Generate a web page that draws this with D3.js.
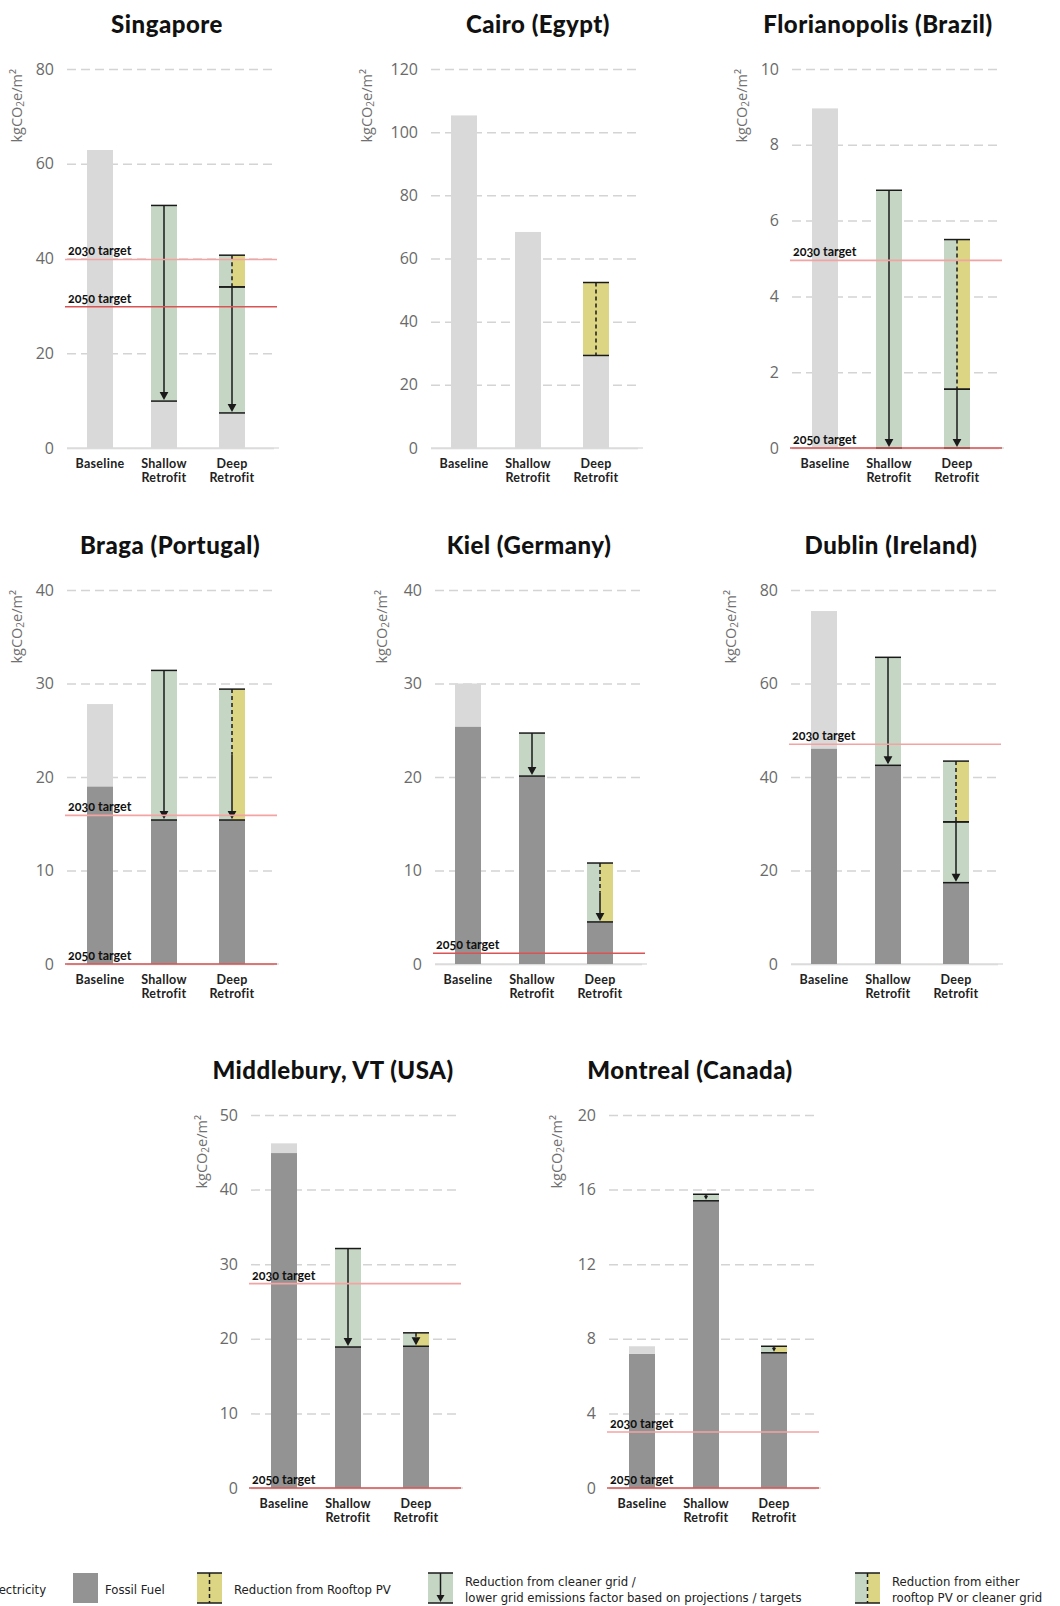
<!DOCTYPE html>
<html>
<head>
<meta charset="utf-8">
<script src="https://cdn.jsdelivr.net/npm/d3@7"></script>
<style>
  body { margin: 0; background: #fff; }
  svg { display: block; }
</style>
</head>
<body>
<svg id="chart" width="1060" height="1606"></svg>
<script>
// ---- data ----
const categories = ['Baseline', 'Shallow Retrofit', 'Deep Retrofit'];
const cities = ['Singapore', 'Cairo (Egypt)', 'Florianopolis (Brazil)',
  'Braga (Portugal)', 'Kiel (Germany)', 'Dublin (Ireland)',
  'Middlebury, VT (USA)', 'Montreal (Canada)'];
const yMax  = [80, 120, 10, 40, 40, 80, 50, 20];
const yStep = [20, 20, 2, 10, 10, 20, 10, 4];

// stacked from the bottom: fossil, electricity, grid cut, either cut, pv cut
const fossil      = [[0, 0, 0], [0, 0, 0], [0, 0, 0], [19.0, 15.4, 15.4], [25.4, 20.1, 4.5], [46.1, 42.5, 17.4], [44.9, 18.9, 19.0], [7.2, 15.4, 7.25]];
const electricity = [[62.9, 9.9, 7.4], [105.3, 68.4, 29.3], [8.96, 0, 0], [8.8, 0, 0], [4.6, 0, 0], [29.4, 0, 0], [1.3, 0, 0], [0.4, 0, 0]];
const gridCut     = [[0, 41.3, 26.6], [0, 0, 0], [0, 6.8, 1.55], [0, 16.0, 0], [0, 4.6, 0], [0, 23.1, 13.0], [0, 13.2, 0], [0, 0.35, 0]];
const eitherCut   = [[0, 0, 6.7], [0, 0, 0], [0, 0, 3.95], [0, 0, 14.0], [0, 0, 6.3], [0, 0, 13.0], [0, 0, 1.8], [0, 0, 0.35]];
const pvCut       = [[0, 0, 0], [0, 0, 23.1], [0, 0, 0], [0, 0, 0], [0, 0, 0], [0, 0, 0], [0, 0, 0], [0, 0, 0]];
const target2030  = [39.8, null, 4.95, 15.9, null, 47.0, 27.4, 3.0];
const target2050  = [29.8, null, 0, 0, 1.15, null, 0, 0];

const legendLabels = [['Electricity'], ['Fossil Fuel'], ['Reduction from Rooftop PV'],
  ['Reduction from cleaner grid /', 'lower grid emissions factor based on projections / targets'],
  ['Reduction from either', 'rooftop PV or cleaner grid']];

// ---- layout ----
const panelX   = [67, 431, 792, 67, 435, 791, 251, 609];
const panelTop = [69, 69, 69, 590, 590, 590, 1115, 1115];
const panelBot = [448, 448, 448, 964, 964, 964, 1488, 1488];
const titleX   = [167, 538, 878, 170, 529, 891, 333, 690];
const yLabelX  = [18, 368, 743, 18, 383, 732, 203, 558];
const W = 207;
const barW = 26;

const colors = {
  electricity: '#d9d9d9',
  fossil: '#939393',
  grid: '#c5d6c5',
  pv: '#dcd583',
  ink: '#1a1a1a',
  t2030: '#f4a3a3',
  t2050: '#db5454'
};

const svg = d3.select('#chart');

const drawPanel = (i) => {
  const x0 = panelX[i];
  const g = svg.append('g').attr('transform', `translate(${x0},0)`);

  const y = d3.scaleLinear().domain([0, yMax[i]]).range([panelBot[i], panelTop[i]]);
  const x = d3.scaleOrdinal().domain(categories).range([33, 97, 165]);

  // title
  svg.append('text')
    .attr('x', titleX[i]).attr('y', panelTop[i] - 36)
    .attr('text-anchor', 'middle')
    .attr('font-family', 'Lato, sans-serif')
    .attr('font-weight', 900)
    .attr('font-size', 24)
    .attr('letter-spacing', 0.5)
    .attr('fill', '#111')
    .text(cities[i]);

  // axis + dashed grid
  const ticks = d3.range(0, yMax[i] + 1e-9, yStep[i]);
  g.append('g')
    .call(d3.axisLeft(y).tickValues(ticks).tickSize(-W).tickPadding(13))
    .call(a => {
      a.select('.domain').remove();
      a.selectAll('line')
        .attr('stroke', '#d4d4d4')
        .attr('stroke-width', 1.5)
        .attr('stroke-dasharray', d => d === 0 ? null : '9,5');
      a.selectAll('text')
        .attr('font-family', '"Open Sans", sans-serif')
        .attr('font-size', 16)
        .attr('fill', '#6a6a6a');
    });
  g.append('line')
    .attr('x1', 0).attr('x2', W + 5)
    .attr('y1', y(0)).attr('y2', y(0))
    .attr('stroke', '#dedede').attr('stroke-width', 1.5);

  // y label
  const yl = svg.append('text')
    .attr('transform', `translate(${yLabelX[i]},${panelTop[i]}) rotate(-90)`)
    .attr('text-anchor', 'end')
    .attr('dominant-baseline', 'middle')
    .attr('font-family', '"Open Sans", sans-serif')
    .attr('font-size', 14.5)
    .attr('fill', '#707070');
  yl.append('tspan').text('kgCO');
  yl.append('tspan').attr('font-size', 10).attr('dy', 3).text('2');
  yl.append('tspan').attr('dy', -3).text('e/m²');

  // bars
  categories.forEach((c, j) => {
    const cx = x(c);
    let base = 0;
    const segs = [];
    [['fossil', fossil[i][j]], ['electricity', electricity[i][j]], ['grid', gridCut[i][j]],
     ['either', eitherCut[i][j]], ['pv', pvCut[i][j]]].forEach(([k, v]) => {
      if (v > 0) { segs.push({ k, lo: base, hi: base + v }); base += v; }
    });

    const bg = g.append('g');
    segs.forEach(s => {
      if (s.k === 'either') {
        bg.append('rect').attr('x', cx - barW / 2).attr('width', barW / 2)
          .attr('y', y(s.hi)).attr('height', y(s.lo) - y(s.hi)).attr('fill', colors.grid);
        bg.append('rect').attr('x', cx).attr('width', barW / 2)
          .attr('y', y(s.hi)).attr('height', y(s.lo) - y(s.hi)).attr('fill', colors.pv);
      } else {
        bg.append('rect').attr('x', cx - barW / 2).attr('width', barW)
          .attr('y', y(s.hi)).attr('height', y(s.lo) - y(s.hi)).attr('fill', colors[s.k]);
      }
    });

    const cuts = segs.filter(s => ['grid', 'either', 'pv'].includes(s.k));
    if (!cuts.length) return;
    const lowest = cuts[0];
    cuts.forEach(s => {
      [s.lo, s.hi].forEach(v => {
        bg.append('line').attr('x1', cx - barW / 2).attr('x2', cx + barW / 2)
          .attr('y1', y(v)).attr('y2', y(v))
          .attr('stroke', colors.ink).attr('stroke-width', 1.5);
      });
      const top = y(s.hi), bot = y(s.lo);
      if (s.k === 'grid') {
        bg.append('line').attr('x1', cx).attr('x2', cx).attr('y1', top).attr('y2', bot - 3)
          .attr('stroke', colors.ink).attr('stroke-width', 1.5);
      } else if (s === lowest && s.k === 'either') {
        const mid = (top + bot) / 2;
        bg.append('line').attr('x1', cx).attr('x2', cx).attr('y1', top).attr('y2', mid)
          .attr('stroke', colors.ink).attr('stroke-width', 1.5).attr('stroke-dasharray', '4,3');
        bg.append('line').attr('x1', cx).attr('x2', cx).attr('y1', mid).attr('y2', bot - 3)
          .attr('stroke', colors.ink).attr('stroke-width', 1.5);
      } else {
        bg.append('line').attr('x1', cx).attr('x2', cx).attr('y1', top).attr('y2', bot)
          .attr('stroke', colors.ink).attr('stroke-width', 1.5).attr('stroke-dasharray', '4,3');
      }
    });
    if (lowest.k !== 'pv') {
      const tip = y(lowest.lo) - 1;
      const total = y(lowest.lo) - y(cuts[cuts.length - 1].hi);
      const h = Math.min(8, total * 0.6);
      const w = h * 1.1;
      bg.append('path')
        .attr('d', `M${cx - w / 2},${tip - h}L${cx + w / 2},${tip - h}L${cx},${tip}Z`)
        .attr('fill', colors.ink);
    }
  });

  // targets
  [[target2030[i], '2030 target', colors.t2030], [target2050[i], '2050 target', colors.t2050]]
    .forEach(([v, label, col]) => {
      if (v === null) return;
      g.append('line')
        .attr('x1', -2).attr('x2', W + 3)
        .attr('y1', y(v)).attr('y2', y(v))
        .attr('stroke', col).attr('stroke-width', 1.6);
      g.append('text')
        .attr('x', 1).attr('y', y(v) - 4)
        .attr('font-family', 'Lato, sans-serif')
        .attr('font-weight', 700)
        .attr('font-size', 12.5)
        .style('font-variant-numeric', 'oldstyle-nums')
        .attr('fill', '#111')
        .text(label);
    });

  // category labels
  categories.forEach(c => {
    const t = g.append('text')
      .attr('x', x(c)).attr('y', panelBot[i] + 20)
      .attr('text-anchor', 'middle')
      .attr('font-family', 'Lato, sans-serif')
      .attr('font-weight', 700)
      .attr('font-size', 12.5)
      .attr('letter-spacing', 0.3)
      .attr('fill', '#222');
    c.split(' ').forEach((w, k) => {
      t.append('tspan').attr('x', x(c)).attr('dy', k ? 13.5 : 0).text(w);
    });
  });
};

cities.forEach((c, i) => drawPanel(i));

// ---- legend ----
const legendX = [-44, 73, 197, 428, 855];
const lg = svg.append('g').attr('transform', 'translate(0,1573)');
const sw = 25, sh = 30;
legendLabels.forEach((lines, k) => {
  const g = lg.append('g').attr('transform', `translate(${legendX[k]},0)`);
  if (k === 0) g.append('rect').attr('width', sw).attr('height', sh).attr('fill', colors.electricity);
  if (k === 1) g.append('rect').attr('width', sw).attr('height', sh).attr('fill', colors.fossil);
  if (k === 2) g.append('rect').attr('width', sw).attr('height', sh).attr('fill', colors.pv);
  if (k === 3) g.append('rect').attr('width', sw).attr('height', sh).attr('fill', colors.grid);
  if (k === 4) {
    g.append('rect').attr('width', sw / 2).attr('height', sh).attr('fill', colors.grid);
    g.append('rect').attr('x', sw / 2).attr('width', sw / 2).attr('height', sh).attr('fill', colors.pv);
  }
  if (k >= 2) {
    [0, sh].forEach(yy => g.append('line').attr('x1', 0).attr('x2', sw).attr('y1', yy).attr('y2', yy)
      .attr('stroke', colors.ink).attr('stroke-width', 1.5));
    g.append('line').attr('x1', sw / 2).attr('x2', sw / 2).attr('y1', 0)
      .attr('y2', k === 3 ? sh - 6 : sh)
      .attr('stroke', colors.ink).attr('stroke-width', 1.5)
      .attr('stroke-dasharray', k === 3 ? null : '4,3');
    if (k === 3) g.append('path').attr('d', `M${sw / 2 - 4},${sh - 8}L${sw / 2 + 4},${sh - 8}L${sw / 2},${sh - 1}Z`).attr('fill', colors.ink);
  }
  const t = g.append('text')
    .attr('x', sw + (k >= 2 ? 12 : 7))
    .attr('y', lines.length > 1 ? 9 : 17)
    .attr('dominant-baseline', 'middle')
    .attr('font-family', '"DejaVu Sans Condensed", "DejaVu Sans", sans-serif')
    .attr('font-size', 13)
    .attr('fill', '#222');
  lines.forEach((l, n) => t.append('tspan').attr('x', sw + (k >= 2 ? 12 : 7)).attr('dy', n ? 16 : 0).text(l));
});
</script>
</body>
</html>
